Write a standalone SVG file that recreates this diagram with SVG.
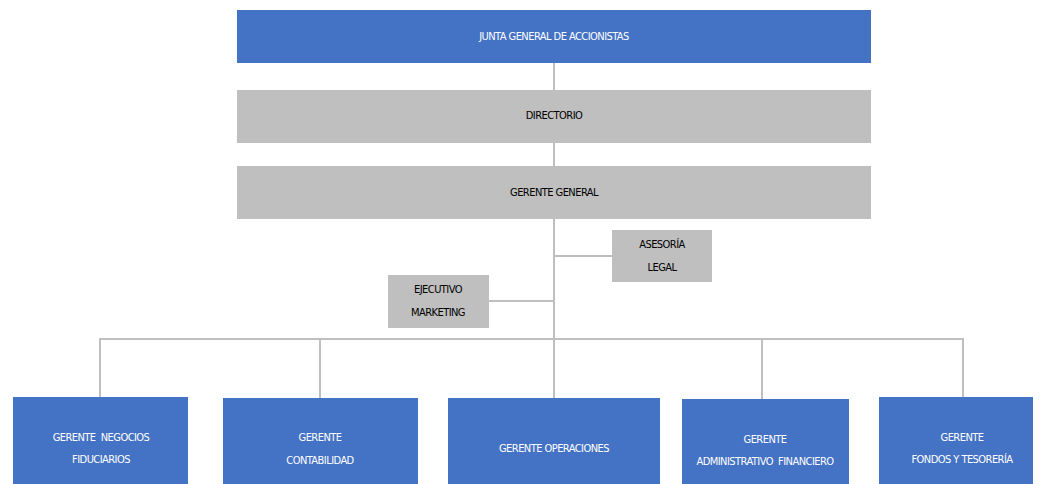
<svg xmlns="http://www.w3.org/2000/svg" width="1048" height="484" viewBox="0 0 1048 484">
<style>
.blue{fill:#4472C4}
.gray{fill:#BFBFBF}
.t{font-family:"Liberation Sans Narrow","DejaVu Sans Condensed","Liberation Sans",sans-serif;font-size:11px;letter-spacing:-0.55px;text-anchor:middle;dominant-baseline:middle}
.w{fill:#FFFFFF}
.k{fill:#000000}
.c{stroke:#BFBFBF;stroke-width:2;fill:none}
</style>
<rect width="1048" height="484" fill="#FFFFFF"/>
<g id="connectors">
<line class="c" x1="554" y1="63" x2="554" y2="90"/>
<line class="c" x1="554" y1="143" x2="554" y2="166"/>
<line class="c" x1="554" y1="219" x2="554" y2="398"/>
<line class="c" x1="554" y1="256" x2="612" y2="256"/>
<line class="c" x1="489" y1="301" x2="554" y2="301"/>
<polyline class="c" points="100,397 100,339 963,339 963,397"/>
<line class="c" x1="320" y1="339" x2="320" y2="398"/>
<line class="c" x1="762" y1="339" x2="762" y2="399"/>
</g>
<g id="junta">
<rect class="blue" x="237" y="10" width="634" height="53"/>
<text class="t w" x="554" y="37">JUNTA GENERAL DE ACCIONISTAS</text>
</g>
<g id="directorio">
<rect class="gray" x="237" y="90" width="634" height="53"/>
<text class="t k" x="554" y="116">DIRECTORIO</text>
</g>
<g id="gerente-general">
<rect class="gray" x="237" y="166" width="634" height="53"/>
<text class="t k" x="554" y="193">GERENTE GENERAL</text>
</g>
<g id="asesoria">
<rect class="gray" x="612" y="230" width="100" height="52"/>
<text class="t k" x="662" y="245">ASESORÍA</text>
<text class="t k" x="662" y="268">LEGAL</text>
</g>
<g id="ejecutivo">
<rect class="gray" x="388" y="275" width="101" height="53"/>
<text class="t k" x="438" y="290">EJECUTIVO</text>
<text class="t k" x="438" y="313">MARKETING</text>
</g>
<g id="negocios">
<rect class="blue" x="13" y="397" width="175" height="90"/>
<text class="t w" x="101" y="438" xml:space="preserve">GERENTE  NEGOCIOS</text>
<text class="t w" x="101" y="460">FIDUCIARIOS</text>
</g>
<g id="contabilidad">
<rect class="blue" x="223" y="398" width="195" height="90"/>
<text class="t w" x="320" y="438">GERENTE</text>
<text class="t w" x="320" y="461">CONTABILIDAD</text>
</g>
<g id="operaciones">
<rect class="blue" x="448" y="398" width="212" height="90"/>
<text class="t w" x="554" y="449">GERENTE OPERACIONES</text>
</g>
<g id="administrativo">
<rect class="blue" x="682" y="399" width="167" height="90"/>
<text class="t w" x="765" y="440">GERENTE</text>
<text class="t w" x="765" y="462" xml:space="preserve">ADMINISTRATIVO  FINANCIERO</text>
</g>
<g id="fondos">
<rect class="blue" x="879" y="397" width="154" height="90"/>
<text class="t w" x="962" y="438">GERENTE</text>
<text class="t w" x="962" y="460">FONDOS Y TESORERÍA</text>
</g>
</svg>
